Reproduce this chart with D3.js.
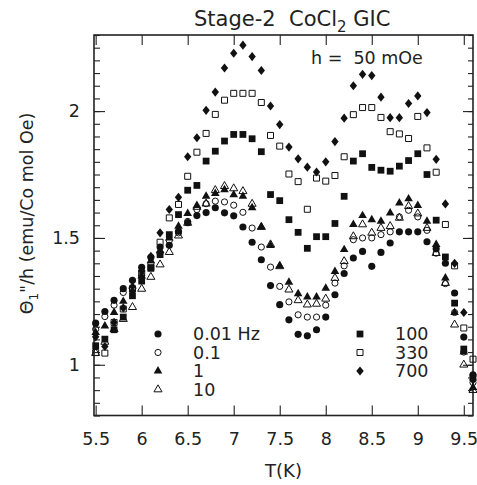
<!DOCTYPE html>
<html>
<head>
<meta charset="utf-8">
<script src="https://cdn.jsdelivr.net/npm/d3@7"></script>
<style>
  html, body { margin: 0; padding: 0; background: #fff; }
  svg { display: block; }
  text { font-family: "DejaVu Sans", "Liberation Sans", sans-serif; fill: #222; }
</style>
</head>
<body>
<svg id="chart" width="477" height="485"></svg>
<script>
// ---------- data ----------
const temps = [5.5,5.6,5.7,5.8,5.9,6.0,6.1,6.2,6.3,6.4,6.5,6.6,6.7,6.8,6.9,7.0,7.1,7.2,7.3,7.4,7.5,7.6,7.7,7.8,7.9,8.0,8.1,8.2,8.3,8.4,8.5,8.6,8.7,8.8,8.9,9.0,9.1,9.2,9.3,9.4,9.5,9.6];

const f001 = [1.164,1.21,1.254,1.30,1.333,1.384,1.424,1.464,1.471,1.526,1.56,1.588,1.600,1.619,1.599,1.587,1.543,1.483,1.414,1.312,1.237,1.177,1.12,1.114,1.138,1.188,1.276,1.36,1.421,1.447,1.388,1.443,1.48,1.524,1.524,1.524,1.485,1.457,1.40,1.283,1.109,0.96];
const f01  = [1.14,1.19,1.235,1.285,1.30,1.35,1.40,1.44,1.49,1.52,1.565,1.612,1.635,1.645,1.642,1.629,1.601,1.539,1.464,1.385,1.309,1.248,1.197,1.188,1.188,1.235,1.322,1.39,1.493,1.50,1.50,1.513,1.524,1.583,1.609,1.583,1.53,1.44,1.32,1.206,1.05,0.93];
const f1   = [1.127,1.153,1.206,1.25,1.31,1.35,1.41,1.45,1.50,1.546,1.596,1.628,1.664,1.675,1.69,1.67,1.664,1.619,1.543,1.47,1.39,1.325,1.28,1.267,1.267,1.302,1.368,1.454,1.553,1.588,1.572,1.566,1.598,1.638,1.654,1.628,1.566,1.474,1.342,1.206,1.05,0.91];
const f10  = [1.046,1.09,1.14,1.18,1.227,1.299,1.346,1.395,1.444,1.509,1.559,1.622,1.635,1.688,1.704,1.695,1.684,1.634,1.543,1.474,1.388,1.296,1.254,1.237,1.24,1.26,1.342,1.408,1.506,1.553,1.52,1.539,1.546,1.579,1.625,1.596,1.539,1.44,1.322,1.158,1.0,0.90];
const f100 = [1.075,1.101,1.138,1.188,1.272,1.33,1.38,1.434,1.513,1.592,1.688,1.707,1.803,1.842,1.882,1.908,1.908,1.891,1.84,1.671,1.647,1.572,1.522,1.459,1.505,1.505,1.557,1.664,1.803,1.832,1.778,1.767,1.763,1.783,1.805,1.832,1.75,1.57,1.425,1.243,1.062,0.95];
const f330 = [1.048,1.046,1.167,1.22,1.30,1.362,1.384,1.483,1.579,1.632,1.743,1.838,1.912,1.987,2.043,2.07,2.07,2.07,2.034,1.904,1.862,1.752,1.722,1.613,1.736,1.724,1.746,1.82,1.986,2.014,2.014,1.975,1.919,1.91,1.892,1.979,1.855,1.759,1.553,1.39,1.145,1.022];
const f700 = [1.11,1.072,1.167,1.224,1.29,1.37,1.427,1.52,1.612,1.66,1.82,1.895,2.003,2.075,2.17,2.228,2.26,2.215,2.16,2.02,1.947,1.858,1.812,1.779,1.76,1.80,1.88,1.972,2.1,2.145,2.14,2.055,1.974,1.974,2.03,2.06,1.994,1.81,1.634,1.40,1.206,0.94];

const seriesLabels = ["0.01 Hz","0.1","1","10","100","330","700"];
const seriesValues = [f001, f01, f1, f10, f100, f330, f700];

const xTicks = [5.5,6,6.5,7,7.5,8,8.5,9,9.5];
const yMajorTicks = [1,1.5,2];

// ---------- layout ----------
const svg = d3.select("#chart");
const L = 94, R = 473, T = 35, B = 415.5;
const x = d3.scaleLinear().domain([5.482, 9.6]).range([L, R]);
const y = d3.scaleLinear().domain([0.8, 2.3]).range([B, T]);
const yMinor = d3.range(0.8, 2.3001, 0.05).map(v => +v.toFixed(2));

// symbols
const diamond = { draw(ctx, size) { const w = Math.sqrt(size) * 0.5, h = w * 1.25;
  ctx.moveTo(0, -h); ctx.lineTo(w, 0); ctx.lineTo(0, h); ctx.lineTo(-w, 0); ctx.closePath(); } };
const styles = [
  { type: d3.symbolCircle,   size: 40, fill: "#111", stroke: "none" },
  { type: d3.symbolCircle,   size: 30, fill: "none", stroke: "#111" },
  { type: d3.symbolTriangle, size: 32, fill: "#111", stroke: "none" },
  { type: d3.symbolTriangle, size: 28, fill: "none", stroke: "#111" },
  { type: d3.symbolSquare,   size: 46, fill: "#111", stroke: "none" },
  { type: d3.symbolSquare,   size: 36, fill: "none", stroke: "#111" },
  { type: diamond,           size: 54, fill: "#111", stroke: "none" }
];

// ---------- axes ----------
const axG = svg.append("g").attr("class", "axes");
function styleAxis(g) {
  g.select(".domain").remove();
  g.selectAll(".tick line").attr("stroke", "#222").attr("stroke-width", 1.1);
  g.selectAll("text").style("font-size", "17.5px").attr("fill", "#222");
}
axG.append("g").attr("transform", `translate(0,${B})`)
  .call(d3.axisBottom(x).tickValues(xTicks).tickSize(-10).tickPadding(17).tickFormat(d => String(d)))
  .call(styleAxis);
axG.append("g").attr("transform", `translate(0,${T})`)
  .call(d3.axisTop(x).tickValues(xTicks).tickSize(-10).tickFormat(""))
  .call(styleAxis);
axG.append("g").attr("transform", `translate(${L},0)`)
  .call(d3.axisLeft(y).tickValues(yMinor).tickSize(-6).tickFormat(""))
  .call(styleAxis);
axG.append("g").attr("transform", `translate(${L},0)`)
  .call(d3.axisLeft(y).tickValues(yMajorTicks).tickSize(-11).tickPadding(14).tickFormat(d => String(d)))
  .call(styleAxis);
axG.append("g").attr("transform", `translate(${R},0)`)
  .call(d3.axisRight(y).tickValues(yMinor).tickSize(-5).tickFormat(""))
  .call(styleAxis);
axG.append("g").attr("transform", `translate(${R},0)`)
  .call(d3.axisRight(y).tickValues(yMajorTicks).tickSize(-10).tickFormat(""))
  .call(styleAxis);

svg.append("rect").attr("x", L).attr("y", T).attr("width", R - L).attr("height", B - T)
  .attr("fill", "none").attr("stroke", "#222").attr("stroke-width", 1.6);

// ---------- points ----------
seriesValues.forEach((vals, i) => {
  const st = styles[i];
  const sym = d3.symbol().type(st.type).size(st.size);
  svg.append("g").selectAll("path").data(vals.map((v, j) => [temps[j], v]))
    .join("path")
    .attr("transform", d => `translate(${x(d[0])},${y(d[1])})`)
    .attr("d", sym)
    .attr("fill", st.fill).attr("stroke", st.stroke).attr("stroke-width", 1);
});

// ---------- legend ----------
const legendPos = [
  { sx: 158, tx: 193, y: 334 }, { sx: 158, tx: 193, y: 352.5 },
  { sx: 158, tx: 193, y: 371 }, { sx: 158, tx: 193, y: 389.5 },
  { sx: 360, tx: 395, y: 334 }, { sx: 360, tx: 395, y: 352.5 },
  { sx: 360, tx: 395, y: 371 }
];
const lg = svg.append("g");
seriesLabels.forEach((lab, i) => {
  const st = styles[i], p = legendPos[i];
  lg.append("path").attr("transform", `translate(${p.sx},${p.y})`)
    .attr("d", d3.symbol().type(st.type).size(st.size))
    .attr("fill", st.fill).attr("stroke", st.stroke).attr("stroke-width", 1);
  lg.append("text").attr("x", p.tx).attr("y", p.y + 6.3).style("font-size", "17.5px").text(lab);
});

// ---------- texts ----------
const title = svg.append("text").attr("x", 194).attr("y", 26).style("font-size", "21px").style("white-space", "pre");
title.append("tspan").text("Stage-2  CoCl");
title.append("tspan").attr("dy", 6).style("font-size", "15px").text("2");
title.append("tspan").attr("dy", -6).text(" GIC");

svg.append("text").attr("x", 311).attr("y", 64).style("font-size", "17.5px").style("white-space", "pre").text("h =  50 mOe");

svg.append("text").attr("x", (L + R) / 2).attr("y", 477).attr("text-anchor", "middle").style("font-size", "18px").text("T(K)");

const yl = svg.append("text").attr("transform", "translate(33,213.5) rotate(-90)").attr("text-anchor", "middle").style("font-size", "17.5px");
yl.append("tspan").text("\u0398");
yl.append("tspan").attr("dy", 5).style("font-size", "12px").text("1");
yl.append("tspan").attr("dy", -5).text("\"/h (emu/Co mol Oe)");
</script>
</body>
</html>
